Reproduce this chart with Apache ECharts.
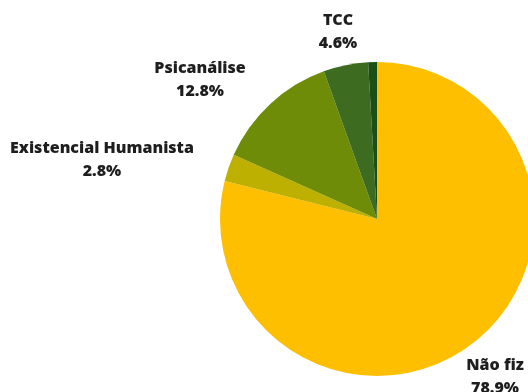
<!DOCTYPE html>
<html><head><meta charset="utf-8">
<script src="https://cdn.jsdelivr.net/npm/echarts@6/dist/echarts.min.js"></script>
<style>html,body{margin:0;padding:0;background:#fff}#c{width:528px;height:392px}</style>
</head><body><div id="c"></div>
<script>
const categories = ['Não fiz', 'Existencial Humanista', 'Psicanálise', 'TCC', ''];
const values = [78.9, 2.8, 12.8, 4.6, 0.9];
const colors = ['#FDBF00', '#BDB000', '#6E8C08', '#3D6B1F', '#1B4F17'];
// label centres (px) for each slice's text block
const labelPos = [[495, 377], [102, 160], [200, 80], [338, 32], null];

const chart = echarts.init(document.getElementById('c'), null, {renderer: 'canvas'});
chart.setOption({
  animation: false,
  series: [{
    type: 'pie',
    center: [377, 219],
    radius: 157,
    startAngle: 90,
    clockwise: true,
    avoidLabelOverlap: false,
    itemStyle: {borderWidth: 0},
    emphasis: {disabled: true},
    label: {
      show: true,
      position: 'outside',
      align: 'center',
      formatter: p => p.name ? p.name + '\n' + p.value.toFixed(1) + '%' : '',
      fontFamily: 'Open Sans',
      fontWeight: 800,
      fontSize: 16,
      lineHeight: 23,
      color: '#1e1e1e'
    },
    labelLine: {show: false},
    labelLayout: p => {
      const pos = labelPos[p.dataIndex];
      if (!pos) return {};
      return {x: pos[0], y: pos[1], align: 'center', verticalAlign: 'middle'};
    },
    data: categories.map((n, i) => ({name: n, value: values[i], itemStyle: {color: colors[i]}}))
  }]
});
</script></body></html>
